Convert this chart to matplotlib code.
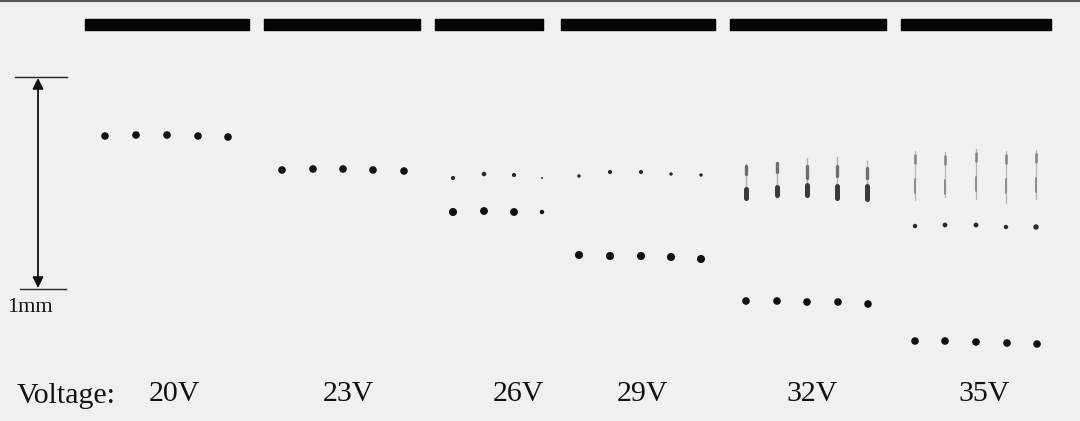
import numpy as np
import matplotlib
matplotlib.use('Agg')
import matplotlib.pyplot as plt

# Image coordinates (pixels, y downward)
voltage_labels = ['20V', '23V', '26V', '29V', '32V', '35V']
label_x = [174, 348, 518, 642, 812, 984]

# electrode bars on top
bar_left = [85, 264, 435, 561, 730, 901]
bar_right = [249, 420, 543, 715, 886, 1051]

# main (large) droplets
big_x = [
    [105, 136, 167, 198, 228],
    [282, 313, 343, 373, 404],
    [453, 484, 514, 542],
    [579, 610, 641, 671, 701],
    [746, 777, 807, 838, 868],
    [915, 945, 976, 1007, 1037],
]
big_y = [
    [136, 135, 135, 136, 137],
    [170, 169, 169, 170, 171],
    [212, 211, 212, 212],
    [255, 256, 256, 257, 259],
    [301, 301, 302, 302, 304],
    [341, 341, 342, 343, 344],
]
big_size = [
    [30, 30, 30, 30, 30],
    [30, 30, 30, 30, 30],
    [34, 32, 32, 10],
    [34, 34, 34, 34, 34],
    [30, 30, 30, 30, 30],
    [30, 30, 30, 30, 30],
]

# small satellite droplets
small_x = [
    [453, 484, 514, 542],
    [579, 610, 641, 671, 701],
    [915, 945, 976, 1006, 1036],
]
small_y = [
    [178, 174, 175, 178],
    [176, 172, 172, 174, 175],
    [226, 225, 225, 227, 227],
]
small_size = [
    [9, 11, 9, 2],
    [6, 9, 9, 6, 6],
    [10, 12, 12, 10, 15],
]

# streaks (32V and 35V)
streak_x_32 = [746, 777, 807, 837, 867]
streak_top_32 = [164, 162, 158, 157, 161]
streak_bot_32 = [200, 198, 197, 200, 201]
blob_top_32 = [189, 187, 185, 186, 186]
blob_bot_32 = [198, 195, 195, 198, 199]
upper_top_32 = [166, 163, 166, 166, 168]
upper_bot_32 = [174, 172, 178, 176, 178]

streak_x_35 = [915, 945, 976, 1006, 1036]
streak_top_35 = [151, 152, 149, 151, 150]
streak_bot_35 = [200, 197, 199, 203, 199]

fig = plt.figure(figsize=(10.8, 4.21), dpi=100)
fig.patch.set_facecolor('#f0f0f0')
ax = fig.add_axes([0, 0, 1, 1])
ax.set_facecolor('#f0f0f0')
ax.set_xlim(0, 1080)
ax.set_ylim(421, 0)
ax.axis('off')

# top border
ax.plot([0, 1080], [1, 1], color='#555555', lw=1.5)

# electrode bars
for l, r in zip(bar_left, bar_right):
    ax.broken_barh([(l, r - l)], (19, 11), color='#050505')

# streaks
for x, t, b, bt, bb, ut, ub in zip(streak_x_32, streak_top_32, streak_bot_32,
                                   blob_top_32, blob_bot_32, upper_top_32, upper_bot_32):
    ax.plot([x, x], [t, b], color='#b0b0b0', lw=1.0)
    ax.plot([x, x], [ut, ub], color='#6e6e6e', lw=2.4, solid_capstyle='round')
    ax.plot([x, x], [bt, bb], color='#3a3a3a', lw=3.6, solid_capstyle='round')

for x, t, b in zip(streak_x_35, streak_top_35, streak_bot_35):
    ax.plot([x, x], [t, b], color='#b5b5b5', lw=0.9)
    ax.plot([x, x], [t + 4, t + 12], color='#808080', lw=1.8, solid_capstyle='round')
    ax.plot([x, x], [t + 28, t + 42], color='#8c8c8c', lw=1.4, solid_capstyle='round')

# small droplets
for xs, ys, ss in zip(small_x, small_y, small_size):
    ax.scatter(xs, ys, s=ss, color='#2a2a2a', edgecolors='none')

# large droplets
for xs, ys, ss in zip(big_x, big_y, big_size):
    ax.scatter(xs, ys, s=ss, color='#111111', edgecolors='none')

# scale bar (1 mm)
ax.plot([15, 67], [77, 77], color='#222222', lw=1.0)
ax.plot([20, 66], [289, 289], color='#222222', lw=1.0)
ax.annotate('', xy=(38, 78), xytext=(38, 288),
            arrowprops=dict(arrowstyle='<|-|>', color='#111111', lw=1.3,
                            mutation_scale=16, shrinkA=0, shrinkB=0))
ax.text(7, 307, '1mm', fontsize=16, family='Liberation Serif',
        ha='left', va='center', color='#111111')

# voltage labels
ax.text(17, 396, 'Voltage:', fontsize=21.5, family='Liberation Serif',
        ha='left', va='center', color='#111111')
for x, lab in zip(label_x, voltage_labels):
    ax.text(x, 394, lab, fontsize=21.5, family='Liberation Serif',
            ha='center', va='center', color='#111111')

fig.savefig('out.png', dpi=100, facecolor=fig.get_facecolor())
